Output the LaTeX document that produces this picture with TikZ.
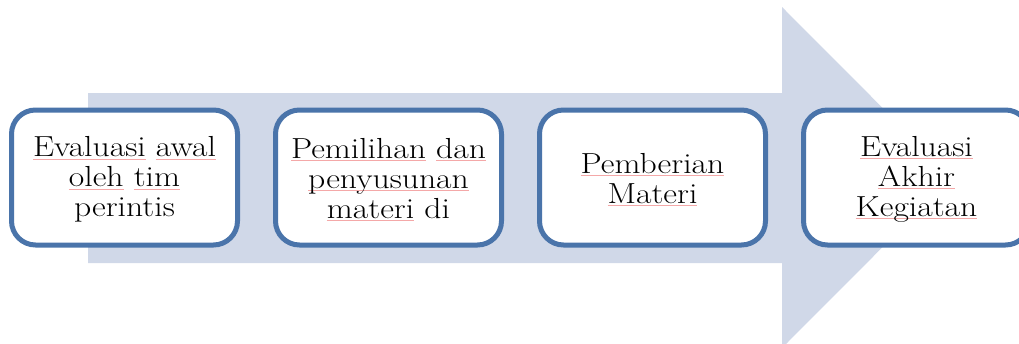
\documentclass[tikz,border=0pt]{standalone}
\usepackage{fontspec}
\newfontfamily\stepfont{Latin Modern Roman}[FakeStretch=1.16]
\definecolor{arrowfill}{HTML}{D0D8E8}
\definecolor{boxline}{HTML}{4A74AA}
\definecolor{spellmark}{HTML}{F4A8A8}
% thin red underline used under flagged words
\newsavebox\flagbox
\newcommand\flagword[1]{\sbox\flagbox{#1}\rlap{\textcolor{spellmark}{\rule[-2.4pt]{\wd\flagbox}{0.6pt}}}\usebox\flagbox}
\tikzset{
  stepbox/.style={draw=boxline, line width=5pt, fill=white, rounded corners=24pt,
    minimum width=226pt, minimum height=135pt, inner sep=0pt},
  steptext/.style={align=center, yshift=-2pt, inner sep=0pt,
    font=\stepfont\fontsize{29}{30}\selectfont},
}
\begin{document}
\begin{tikzpicture}[x=1pt, y=-1pt]
\useasboundingbox (0,0) rectangle (1019,343);
\clip (0,0) rectangle (1019,343);
% broad background arrow
\fill[arrowfill] (88,93) -- (782,93) -- (782,7) -- (952,177.5) -- (782,348) -- (782,263) -- (88,263) -- cycle;
% process steps
\node[stepbox, label={[steptext, name=t1]center:{\flagword{Evaluasi} \flagword{awal}\\ \flagword{oleh} \flagword{tim}\\ perintis}}] (s1) at (124.5,177.5) {};
\node[stepbox, label={[steptext, name=t2]center:{\flagword{Pemilihan} \flagword{dan}\\ \flagword{penyusunan}\\ \flagword{materi} di}}] (s2) at (388.5,177.5) {};
\node[stepbox, label={[steptext, name=t3]center:{\flagword{Pemberian}\\ \flagword{Materi}}}] (s3) at (652.5,177.5) {};
\node[stepbox, label={[steptext, name=t4]center:{\flagword{Evaluasi}\\ \flagword{Akhir}\\ \flagword{Kegiatan}}}] (s4) at (916.5,177.5) {};
\end{tikzpicture}
\end{document}
